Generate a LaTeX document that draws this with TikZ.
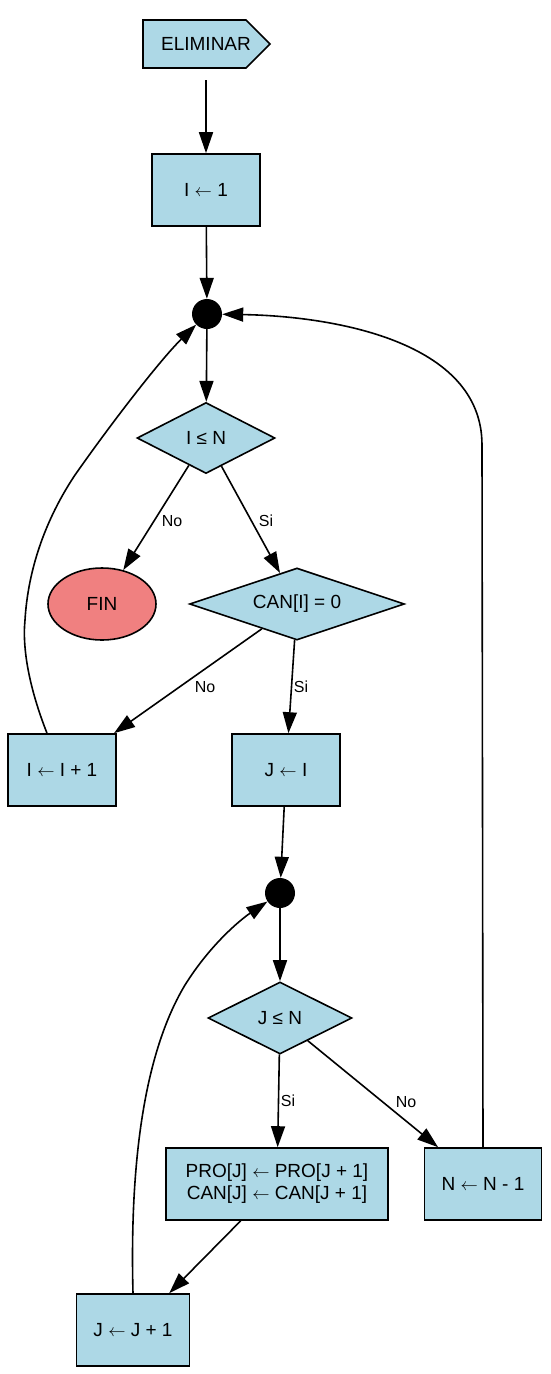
\documentclass[tikz,border=0pt]{standalone}
\usepackage{fontspec}
\setmainfont{Liberation Sans}
\usetikzlibrary{arrows.meta,shapes.geometric,calc}
\definecolor{lb}{HTML}{ADD8E6}
\definecolor{lc}{HTML}{F08080}
\newcommand{\la}{$\leftarrow$}
\tikzset{
  box/.style={draw, line width=1.6pt, fill=lb, inner sep=0pt, minimum width=108pt, minimum height=72pt, font=\fontsize{19}{22}\selectfont, align=center},
  dia/.style={draw, line width=1.6pt, fill=lb, diamond, shape aspect=3, inner sep=0pt, font=\fontsize{19}{22}\selectfont},
  dot/.style={circle, fill=black, inner sep=0pt, minimum size=30pt},
  lab/.style={font=\fontsize{16}{18}\selectfont, inner sep=0pt},
  edge/.style={line width=1.6pt, -{Triangle[length=21pt,width=14pt]}},
}
\begin{document}
\begin{tikzpicture}[x=1pt,y=-1pt]
\useasboundingbox (0,0) rectangle (550,1374);
% start tag
\draw[line width=1.6pt, fill=lb] (143,20) -- (246,20) -- (270,44) -- (246,68) -- (143,68) -- cycle;
\node[font=\fontsize{19}{22}\selectfont, inner sep=0pt] (elim) at (206,44) {ELIMINAR};
\coordinate (s0) at (206,80);
\node[box] (i1) at (206,190) {I \la{} 1};
\node[dot] (d1) at (207,314) {};
\node[dia, minimum width=138pt, minimum height=71pt] (ilen) at (206,438) {I ≤ N};
\node[draw, line width=1.6pt, fill=lc, ellipse, minimum width=108pt, minimum height=72pt, inner sep=0pt, font=\fontsize{19}{22}\selectfont] (fin) at (102,604) {FIN};
\node[dia, minimum width=215pt, minimum height=72pt] (can) at (297,604) {CAN[I] = 0};
\node[box] (ii1) at (62,770) {I \la{} I + 1};
\node[box] (ji) at (286,770) {J \la{} I};
\node[dot] (d2) at (280,893) {};
\node[dia, minimum width=144pt, minimum height=72pt] (jlen) at (280,1018) {J ≤ N};
\node[box, minimum width=222pt] (pro) at (277,1184) {PRO[J] \la{} PRO[J + 1]\\CAN[J] \la{} CAN[J + 1]};
\node[box, minimum width=117pt] (nn) at (483,1184) {N \la{} N - 1};
\node[box, minimum width=113pt] (jj1) at (133,1330) {J \la{} J + 1};

\draw[edge] (s0) -- (i1);
\draw[edge] (i1) -- (d1);
\draw[edge] (d1) -- (ilen);
\draw[edge] (ilen) -- (fin);
\draw[edge] (ilen) -- (can);
\draw[edge] (can) -- (ii1);
\draw[edge] (can) -- (ji);
\draw[edge] (ji) -- (d2);
\draw[edge] (d2) -- (jlen);
\draw[edge] (jlen) -- (pro);
\draw[edge] (jlen) -- (nn);
\draw[edge] (pro) -- (jj1);
\draw[edge] ([xshift=-15pt]ii1.north) .. controls (30,690) and (22,650) .. (25,620)
  .. controls (28,570) and (45,520) .. (75,475)
  .. controls (110,425) and (160,360) .. (d1);
\draw[edge] (nn.north) -- (482,445) .. controls (482,340) and (330,316) .. (d1);
\draw[edge] (jj1.north) .. controls (130,1180) and (140,1060) .. (185,985)
  .. controls (210,945) and (240,920) .. (d2);

\node[lab] (l1) at (172,521) {No};
\node[lab] (l2) at (266,521) {Si};
\node[lab] (l3) at (205,687) {No};
\node[lab] (l4) at (301,687) {Si};
\node[lab] (l5) at (288,1101) {Si};
\node[lab] (l6) at (406,1102) {No};
\end{tikzpicture}
\end{document}
